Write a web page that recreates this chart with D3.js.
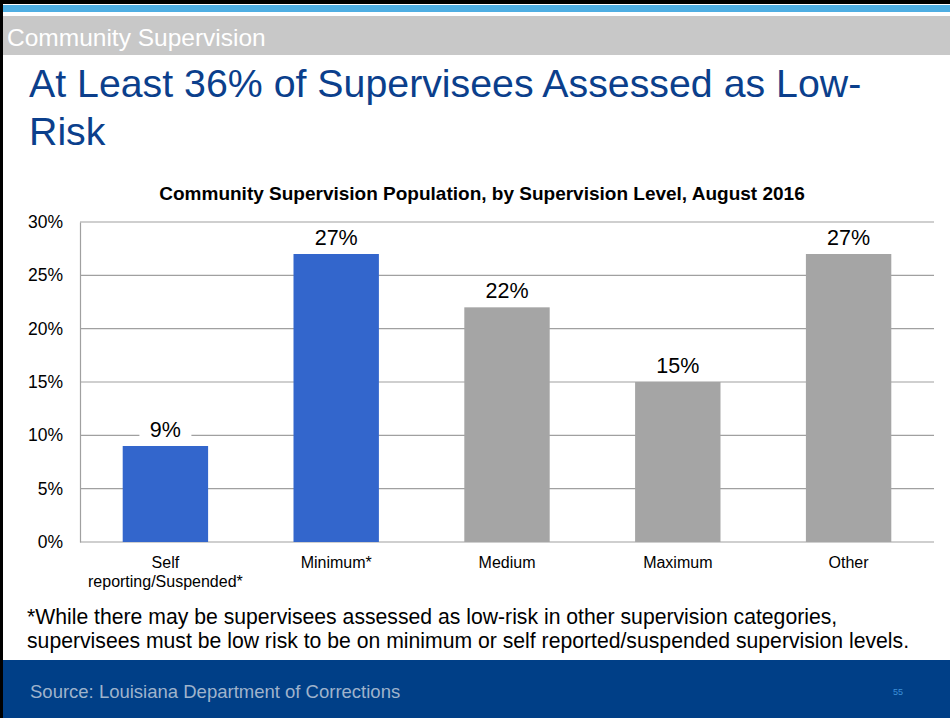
<!DOCTYPE html>
<html>
<head>
<meta charset="utf-8">
<script src="https://cdn.jsdelivr.net/npm/d3@7"></script>
<style>
  html, body { margin: 0; padding: 0; background: #fff; }
  svg { display: block; font-family: "Liberation Sans", Arial, sans-serif; }
</style>
</head>
<body>
<svg id="slide" width="950" height="718"></svg>
<script>
// Supervision levels and share of the community supervision population (%)
const categories = ["Self\nreporting/Suspended*", "Minimum*", "Medium", "Maximum", "Other"];
const values = [9, 27, 22, 15, 27];
const lowRisk = [true, true, false, false, false];
const yTicks = [0, 5, 10, 15, 20, 25, 30];

const svg = d3.select("#slide");
const W = 950, H = 718;

// Slide frame: top rule, accent stripe, section band
svg.append("rect").attr("x", 0).attr("y", 0).attr("width", W).attr("height", 4).attr("fill", "#000");
svg.append("rect").attr("x", 0).attr("y", 0).attr("width", 3).attr("height", H).attr("fill", "#000");
svg.append("rect").attr("x", 3).attr("y", 5).attr("width", W - 3).attr("height", 7).attr("fill", "#4eaee3");
svg.append("rect").attr("x", 3).attr("y", 16).attr("width", W - 3).attr("height", 39).attr("fill", "#c8c8c8");
svg.append("text").attr("x", 7).attr("y", 46).attr("fill", "#fff")
  .attr("font-size", 24.5).text("Community Supervision");

// Headline
const headline = svg.append("text").attr("fill", "#0b3f8c").attr("font-size", 39.3);
headline.append("tspan").attr("x", 29).attr("y", 97).text("At Least 36% of Supervisees Assessed as Low-");
headline.append("tspan").attr("x", 29).attr("y", 145).text("Risk");

// Chart title
svg.append("text").attr("x", 482).attr("y", 200).attr("text-anchor", "middle")
  .attr("font-weight", "bold").attr("font-size", 19).attr("fill", "#000")
  .text("Community Supervision Population, by Supervision Level, August 2016");

// Plot area
const plotL = 80, plotR = 934, plotT = 222, plotB = 542;
const x = d3.scaleBand().domain(categories).range([plotL, plotR]).paddingInner(0.5).paddingOuter(0.25);
const y = d3.scaleLinear().domain([0, 30]).range([plotB, plotT]);

const g = svg.append("g");

// Gridlines
g.selectAll("line.grid").data(yTicks).join("line")
  .attr("class", "grid")
  .attr("x1", plotL).attr("x2", plotR)
  .attr("y1", d => y(d)).attr("y2", d => y(d))
  .attr("stroke", "#a0a0a0").attr("stroke-width", 1.2);

// Y axis
const yAxis = d3.axisLeft(y).tickValues(yTicks).tickFormat(d => d + "%").tickSize(0).tickPadding(17);
const ya = svg.append("g").attr("transform", `translate(${plotL},0)`).call(yAxis);
ya.select(".domain").attr("stroke", "#a0a0a0").attr("stroke-width", 1.2);
ya.selectAll("text").attr("font-size", 17.5).attr("fill", "#000")
  .attr("font-family", "Liberation Sans, Arial, sans-serif");

// Bars
g.selectAll("rect.bar").data(categories).join("rect")
  .attr("class", "bar")
  .attr("x", d => x(d))
  .attr("y", (d, i) => y(values[i]))
  .attr("width", x.bandwidth())
  .attr("height", (d, i) => y(0) - y(values[i]))
  .attr("fill", (d, i) => lowRisk[i] ? "#3366cc" : "#a5a5a5");

// Value labels on white boxes
const lbl = g.selectAll("g.lbl").data(categories).join("g").attr("class", "lbl")
  .attr("transform", (d, i) => `translate(${x(d) + x.bandwidth() / 2},${y(values[i]) - 17})`);
lbl.append("rect").attr("x", -26).attr("y", -14).attr("width", 52).attr("height", 28).attr("fill", "#fff");
lbl.append("text").attr("text-anchor", "middle").attr("dy", "0.35em")
  .attr("font-size", 21.5).attr("fill", "#000")
  .text((d, i) => values[i] + "%");

// Category labels
const cat = svg.append("g").selectAll("text").data(categories).join("text")
  .attr("text-anchor", "middle").attr("font-size", 16).attr("fill", "#000");
cat.each(function (d) {
  const lines = d.split("\n");
  const t = d3.select(this);
  lines.forEach((ln, k) => {
    t.append("tspan").attr("x", x(d) + x.bandwidth() / 2).attr("y", 568 + k * 19).text(ln);
  });
});

// Footnote
const note = svg.append("text").attr("font-size", 21.2).attr("fill", "#000");
note.append("tspan").attr("x", 27).attr("y", 624)
  .text("*While there may be supervisees assessed as low-risk in other supervision categories,");
note.append("tspan").attr("x", 27).attr("y", 648)
  .text("supervisees must be low risk to be on minimum or self reported/suspended supervision levels.");

// Footer band
svg.append("rect").attr("x", 3).attr("y", 660).attr("width", W - 3).attr("height", H - 660).attr("fill", "#003f87");
svg.append("text").attr("x", 30).attr("y", 698).attr("font-size", 18.5).attr("fill", "#9fb3cc")
  .text("Source: Louisiana Department of Corrections");
svg.append("text").attr("x", 893).attr("y", 695).attr("font-size", 9).attr("fill", "#3d8fd8")
  .text("55");
</script>
</body>
</html>
